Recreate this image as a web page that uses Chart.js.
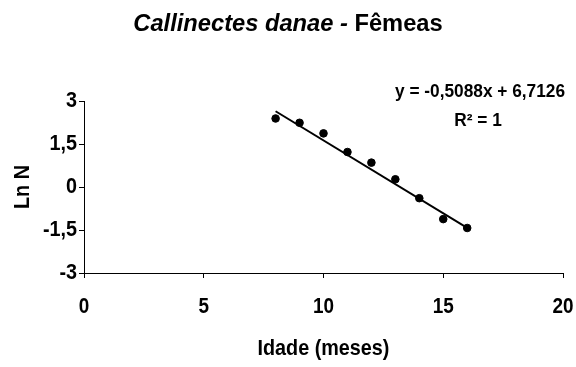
<!DOCTYPE html>
<html>
<head>
<meta charset="utf-8">
<script src="https://cdn.jsdelivr.net/npm/chart.js@4/dist/chart.umd.min.js"></script>
<style>
  html, body { margin: 0; padding: 0; background: #fff; }
  canvas { display: block; }
</style>
</head>
<body>
<canvas id="chart" width="576" height="367"></canvas>
<script>
// Age (months) and natural log of the number of females
const ages = [8, 9, 10, 11, 12, 13, 14, 15, 16];
const lnN = [2.39, 2.24, 1.87, 1.22, 0.85, 0.27, -0.39, -1.12, -1.43];

// Axis tick values
const xTicks = [0, 5, 10, 15, 20];
const yTicks = [-3, -1.5, 0, 1.5, 3];

// Linear trendline as stated in the equation label
const trendSlope = -0.5088;
const trendIntercept = 6.7126;
const rSquared = 1;

const titleItalic = 'Callinectes danae - ';
const titleRegular = 'Fêmeas';
const xTitle = 'Idade (meses)';
const yTitle = 'Ln N';

const SANS = "'Liberation Sans', Arial, sans-serif";

const fmt = v => String(v).replace('.', ',');

const trendPoints = [ages[0], ages[ages.length - 1]].map(x => ({
  x: x,
  y: trendSlope * x + trendIntercept
}));

// Draws bold text, optionally condensed / stretched and rotated
function drawText(ctx, text, x, y, size, o = {}) {
  ctx.save();
  ctx.translate(x, y);
  if (o.rotate) ctx.rotate(o.rotate);
  ctx.scale(o.sx || 1, o.sy || 1);
  ctx.font = (o.italic ? 'italic ' : '') + 'bold ' + size + 'px ' + SANS;
  ctx.fillStyle = '#000';
  ctx.textAlign = o.align || 'center';
  ctx.textBaseline = 'middle';
  ctx.fillText(text, 0, 0);
  ctx.restore();
}

// Title, tick labels, axis titles and the trendline equation
const textPlugin = {
  id: 'chartText',
  afterDraw(chart) {
    const ctx = chart.ctx;
    const area = chart.chartArea;
    const xs = chart.scales.x;
    const ys = chart.scales.y;

    // Title: italic species name followed by upright text
    const tSize = 23.7;
    ctx.save();
    ctx.font = 'italic bold ' + tSize + 'px ' + SANS;
    const w1 = ctx.measureText(titleItalic).width;
    ctx.font = 'bold ' + tSize + 'px ' + SANS;
    const w2 = ctx.measureText(titleRegular).width;
    ctx.restore();
    const x0 = chart.width / 2 - (w1 + w2) / 2;
    drawText(ctx, titleItalic, x0, 24, tSize, { italic: true, align: 'left' });
    drawText(ctx, titleRegular, x0 + w1, 24, tSize, { align: 'left' });

    // Tick labels
    xs.ticks.forEach(t => {
      drawText(ctx, fmt(t.value), xs.getPixelForValue(t.value), area.bottom + 34, 21.5, { sx: 0.88 });
    });
    ys.ticks.forEach(t => {
      drawText(ctx, fmt(t.value), area.left - 7, ys.getPixelForValue(t.value), 21.5, { sx: 0.92, align: 'right' });
    });

    // Axis titles
    drawText(ctx, xTitle, (area.left + area.right) / 2, 349, 21.5, { sx: 0.92 });
    drawText(ctx, yTitle, 23, (area.top + area.bottom) / 2, 21.5, { sx: 0.92, rotate: -Math.PI / 2 });

    // Trendline equation and R²
    const eq = 'y = ' + fmt(trendSlope) + 'x + ' + fmt(trendIntercept);
    drawText(ctx, eq, 480, 92.5, 18, { sx: 0.96 });
    drawText(ctx, 'R² = ' + fmt(rSquared), 478, 121, 18, { sx: 0.96 });
  }
};

const noPad = s => { s.paddingLeft = 0; s.paddingRight = 0; s.paddingTop = 0; s.paddingBottom = 0; };

new Chart(document.getElementById('chart'), {
  type: 'scatter',
  data: {
    datasets: [
      {
        label: 'Ln N',
        data: ages.map((a, i) => ({ x: a, y: lnN[i] })),
        backgroundColor: '#000',
        borderColor: '#000',
        pointRadius: 3.8,
        pointHoverRadius: 3.8,
        order: 2
      },
      {
        type: 'line',
        label: 'Linear',
        data: trendPoints,
        borderColor: '#000',
        borderWidth: 2,
        pointRadius: 0,
        fill: false,
        order: 1
      }
    ]
  },
  options: {
    responsive: false,
    animation: false,
    devicePixelRatio: 1,
    layout: { padding: { left: 0, top: 101, right: 13, bottom: 0 } },
    plugins: {
      legend: { display: false },
      tooltip: { enabled: false },
      title: { display: false }
    },
    scales: {
      x: {
        type: 'linear',
        position: 'bottom',
        min: 0,
        max: 20,
        afterBuildTicks: s => { s.ticks = xTicks.map(v => ({ value: v })); },
        afterFit: s => { s.height = 94; noPad(s); },
        grid: { drawOnChartArea: false, drawTicks: true, tickLength: 5, color: '#000', lineWidth: 1 },
        border: { display: true, color: '#000', width: 1 },
        ticks: { display: false },
        title: { display: false }
      },
      y: {
        type: 'linear',
        position: 'left',
        min: -3,
        max: 3,
        afterBuildTicks: s => { s.ticks = yTicks.map(v => ({ value: v })); },
        afterFit: s => { s.width = 84; noPad(s); },
        grid: { drawOnChartArea: false, drawTicks: true, tickLength: 5, color: '#000', lineWidth: 1 },
        border: { display: true, color: '#000', width: 1 },
        ticks: { display: false },
        title: { display: false }
      }
    }
  },
  plugins: [textPlugin]
});
</script>
</body>
</html>
